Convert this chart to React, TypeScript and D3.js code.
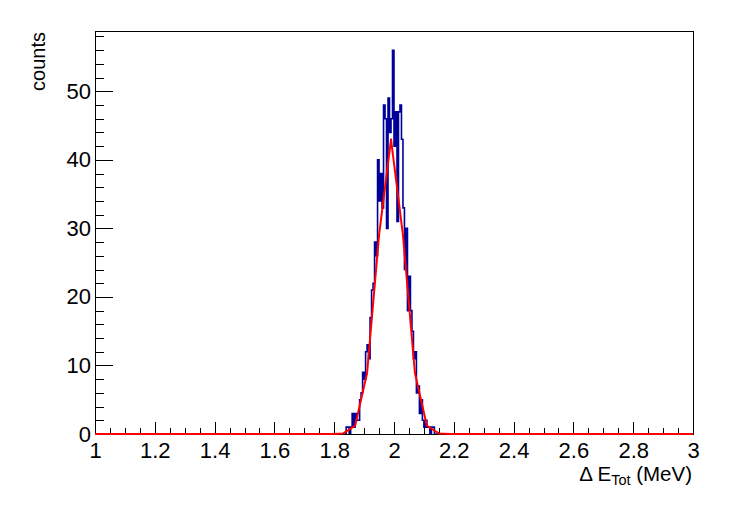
import React, { useEffect, useRef } from 'react';
import * as d3 from 'd3';

// axis ticks
const xMajorTicks = [1, 1.2, 1.4, 1.6, 1.8, 2, 2.2, 2.4, 2.6, 2.8, 3];
const yMajorTicks = [0, 10, 20, 30, 40, 50];

// histogram: 400 bins over [1, 3], only non-empty region listed
const binStart = 1.84;
const binWidth = 0.005;
const counts = [
  1, 1, 0, 1, 3, 1, 3, 2, 2, 5,
  6, 9, 8, 12, 13, 11, 17, 21, 22, 28,
  26, 40, 34, 38, 33, 48, 46, 30, 49, 44,
  46, 56, 42, 47, 31, 47, 48, 43, 33, 24,
  30, 18, 23, 18, 15, 11, 12, 6, 7, 3,
  5, 2, 1, 2, 1, 1, 0, 1, 1,
];

// gaussian fit curve as drawn (sampled points)
const fitX = [1.0, 1.79, 1.83, 1.87, 1.91, 1.95, 1.99, 2.03, 2.07, 2.11, 2.15, 2.19, 3.0];
const fitY = [0, 0, 0.08, 1.2, 8.9, 29.0, 43.0, 29.0, 8.9, 1.2, 0.08, 0, 0];

const W = 747;
const H = 505;
const FONT = '"Liberation Sans", Arial, Helvetica, sans-serif';

export default function App() {
  const svgRef = useRef<SVGSVGElement>(null);

  useEffect(() => {
    if (!svgRef.current) return;
    const svg = d3.select(svgRef.current);
    svg.selectAll('*').remove();

    const frame = { left: 95, right: 693, top: 31, bottom: 434 };

    const x = d3.scaleLinear().domain([1, 3]).range([frame.left, frame.right]);
    const y = d3.scaleLinear().domain([0, 58.8]).range([frame.bottom, frame.top]);

    svg.append('rect')
      .attr('width', W)
      .attr('height', H)
      .attr('fill', '#fff');

    // histogram outline
    const pts: [number, number][] = [[1, 0]];
    counts.forEach((c, i) => pts.push([binStart + i * binWidth, c]));
    pts.push([binStart + counts.length * binWidth, 0]);
    pts.push([3, 0]);

    const histLine = d3.line<[number, number]>()
      .x(d => x(d[0]))
      .y(d => y(d[1]))
      .curve(d3.curveStepAfter);

    svg.append('path')
      .attr('d', histLine(pts))
      .attr('fill', 'none')
      .attr('stroke', '#000099')
      .attr('stroke-width', 1.6);

    // frame
    svg.append('rect')
      .attr('x', frame.left)
      .attr('y', frame.top)
      .attr('width', frame.right - frame.left)
      .attr('height', frame.bottom - frame.top)
      .attr('fill', 'none')
      .attr('stroke', '#000')
      .attr('stroke-width', 1)
      .attr('shape-rendering', 'crispEdges');

    // x axis: major + minor ticks, drawn inward
    const xMinor = d3.range(0, 41).map(i => 1 + i * 0.05);
    svg.append('g')
      .attr('transform', `translate(0,${frame.bottom})`)
      .call(d3.axisBottom(x).tickValues(xMinor).tickSizeInner(-6).tickSizeOuter(0).tickFormat(() => ''))
      .call(g => g.select('.domain').remove())
      .attr('shape-rendering', 'crispEdges');

    svg.append('g')
      .attr('transform', `translate(0,${frame.bottom})`)
      .call(d3.axisBottom(x)
        .tickValues(xMajorTicks)
        .tickSizeInner(-12)
        .tickSizeOuter(0)
        .tickPadding(8)
        .tickFormat(d => String(+(+d).toFixed(1))))
      .call(g => g.select('.domain').remove())
      .call(g => g.selectAll('line').attr('shape-rendering', 'crispEdges'))
      .call(g => g.selectAll('text')
        .attr('font-family', FONT)
        .attr('font-size', 22)
        .attr('fill', '#000'));

    // y axis
    const yMinor = d3.range(0, 30).map(i => i * 2);
    svg.append('g')
      .attr('transform', `translate(${frame.left},0)`)
      .call(d3.axisLeft(y).tickValues(yMinor).tickSizeInner(-9).tickSizeOuter(0).tickFormat(() => ''))
      .call(g => g.select('.domain').remove())
      .attr('shape-rendering', 'crispEdges');

    svg.append('g')
      .attr('transform', `translate(${frame.left},0)`)
      .call(d3.axisLeft(y)
        .tickValues(yMajorTicks)
        .tickSizeInner(-18)
        .tickSizeOuter(0)
        .tickPadding(4))
      .call(g => g.select('.domain').remove())
      .call(g => g.selectAll('line').attr('shape-rendering', 'crispEdges'))
      .call(g => g.selectAll('text')
        .attr('font-family', FONT)
        .attr('font-size', 22)
        .attr('fill', '#000'));

    // fit curve
    const fitLine = d3.line<number>()
      .x((d, i) => x(fitX[i]))
      .y(d => y(d));

    svg.append('path')
      .attr('d', fitLine(fitY))
      .attr('fill', 'none')
      .attr('stroke', '#ff0000')
      .attr('stroke-width', 2)
      .attr('stroke-linejoin', 'round');

    // x title
    const xt = svg.append('text')
      .attr('x', 692)
      .attr('y', 481)
      .attr('text-anchor', 'end')
      .attr('font-family', FONT)
      .attr('font-size', 20.5)
      .attr('fill', '#000');
    xt.append('tspan').text('Δ E');
    xt.append('tspan').attr('font-size', 14.5).attr('dy', 4).text('Tot');
    xt.append('tspan').attr('dy', -4).text(' (MeV)');

    // y title
    svg.append('text')
      .attr('transform', 'translate(45,32) rotate(-90)')
      .attr('text-anchor', 'end')
      .attr('font-family', FONT)
      .attr('font-size', 20)
      .attr('fill', '#000')
      .text('counts');
  }, []);

  return (
    <div style={{ position: 'absolute', left: 0, top: 0, width: W, height: H }}>
      <svg ref={svgRef} width={W} height={H} style={{ display: 'block' }} />
    </div>
  );
}
